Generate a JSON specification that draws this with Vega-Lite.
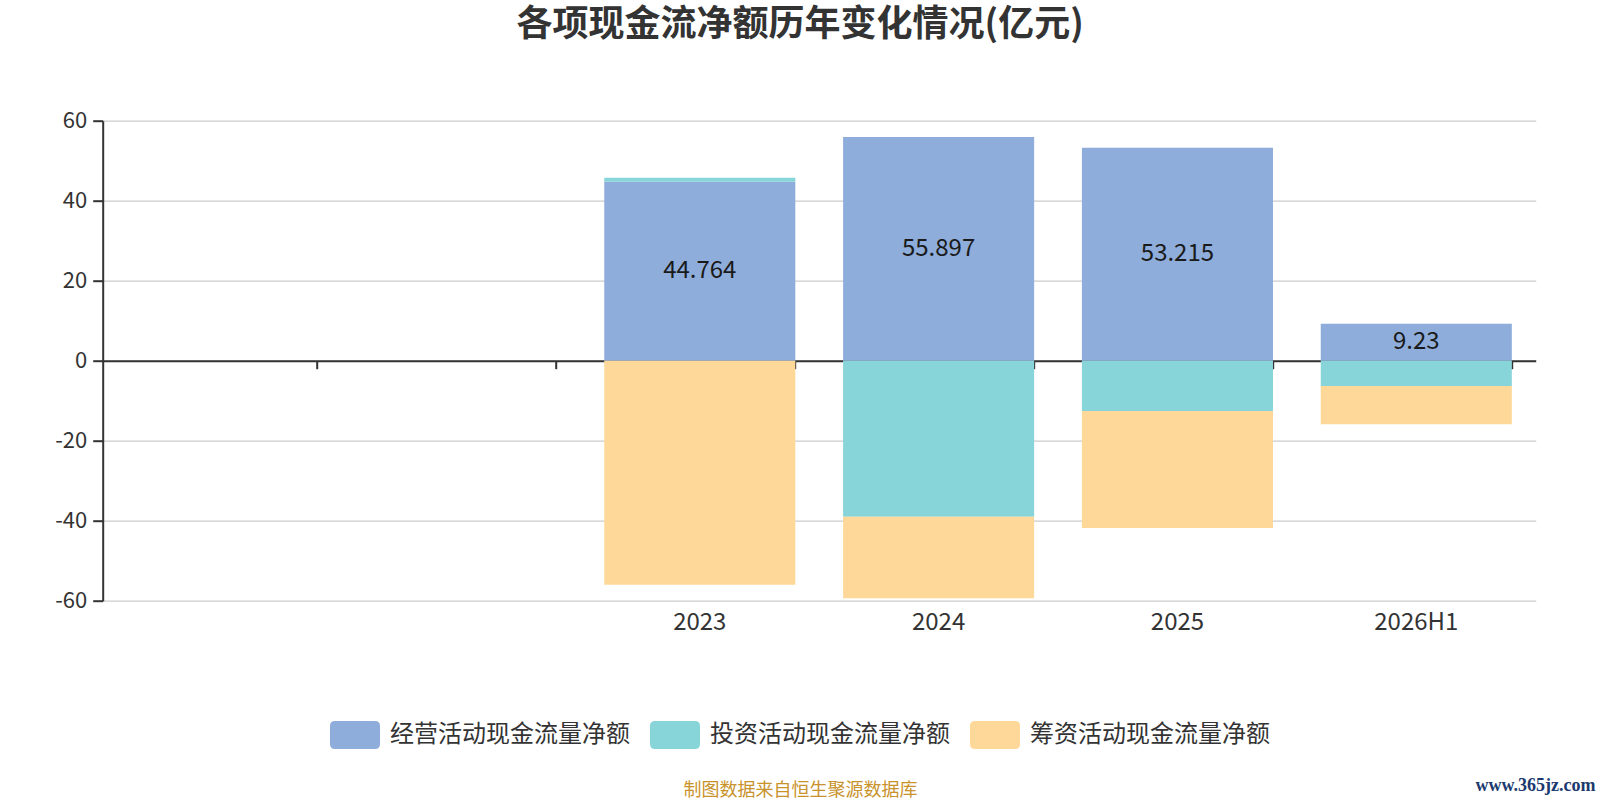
{
  "$schema": "https://vega.github.io/schema/vega-lite/v6.json",
  "autosize": {"type": "none"},
  "padding": {"left": 102.7, "top": 120.7, "right": 64.3, "bottom": 199.3},
  "width": 1433,
  "height": 480,
  "title": {
    "text": "各项现金流净额历年变化情况(亿元)",
    "anchor": "middle", "dx": -19, "offset": 66,
    "font": "Noto Sans CJK SC", "fontSize": 36, "fontWeight": "bold", "color": "#333333"
  },
  "data": {
    "values": [
      {"year": "2023", "type": "经营活动现金流量净额", "k": 1, "value": 44.764},
      {"year": "2023", "type": "投资活动现金流量净额", "k": 2, "value": 1.0},
      {"year": "2023", "type": "筹资活动现金流量净额", "k": 3, "value": -56.0},
      {"year": "2024", "type": "经营活动现金流量净额", "k": 1, "value": 55.897},
      {"year": "2024", "type": "投资活动现金流量净额", "k": 2, "value": -39.0},
      {"year": "2024", "type": "筹资活动现金流量净额", "k": 3, "value": -20.4},
      {"year": "2025", "type": "经营活动现金流量净额", "k": 1, "value": 53.215},
      {"year": "2025", "type": "投资活动现金流量净额", "k": 2, "value": -12.6},
      {"year": "2025", "type": "筹资活动现金流量净额", "k": 3, "value": -29.2},
      {"year": "2026H1", "type": "经营活动现金流量净额", "k": 1, "value": 9.23},
      {"year": "2026H1", "type": "投资活动现金流量净额", "k": 2, "value": -6.3},
      {"year": "2026H1", "type": "筹资活动现金流量净额", "k": 3, "value": -9.6}
    ]
  },
  "resolve": {"axis": {"x": "independent"}},
  "layer": [
    {
      "mark": {"type": "bar"},
      "encoding": {
        "x": {
          "field": "year", "type": "nominal", "sort": null,
          "scale": {"domain": [" ", "  ", "2023", "2024", "2025", "2026H1"], "paddingInner": 0.2, "paddingOuter": 0.1},
          "axis": {
            "orient": "bottom", "domain": false, "ticks": false, "grid": false,
            "labelAngle": 0, "labelFontSize": 24, "labelColor": "#333333", "labelPadding": 10,
            "title": "制图数据来自恒生聚源数据库", "titleFontSize": 18, "titleFontWeight": "normal",
            "titleColor": "#c8922c", "titleX": 697.3, "titleY": 189.3, "titleBaseline": "middle", "titleAlign": "center"
          }
        },
        "y": {
          "field": "value", "type": "quantitative", "stack": "zero",
          "scale": {"domain": [-60, 60], "nice": false},
          "axis": {
            "values": [-60, -40, -20, 0, 20, 40, 60], "title": null,
            "labelExpr": "datum.value + ''",
            "labelFontSize": 22, "labelColor": "#333333", "labelPadding": 6,
            "domainColor": "#333333", "domainWidth": 2, "tickColor": "#333333", "tickWidth": 2, "tickSize": 10,
            "gridColor": "#cccccc", "gridWidth": 1.3
          }
        },
        "color": {
          "field": "type", "type": "nominal",
          "scale": {
            "domain": ["经营活动现金流量净额", "投资活动现金流量净额", "筹资活动现金流量净额"],
            "range": ["#8eaddb", "#88d5d9", "#fed899"]
          },
          "legend": {
            "orient": "none", "direction": "horizontal", "legendX": 227.3, "legendY": 589.3,
            "title": null,
            "symbolType": "M-0.8,-0.56 L0.8,-0.56 Q1,-0.56 1,-0.36 L1,0.36 Q1,0.56 0.8,0.56 L-0.8,0.56 Q-1,0.56 -1,0.36 L-1,-0.36 Q-1,-0.56 -0.8,-0.56 Z",
            "symbolSize": 2500, "symbolStrokeWidth": 0, "symbolOpacity": 1,
            "labelFontSize": 24, "labelColor": "#333333", "labelOffset": 10, "labelLimit": 400,
            "columnPadding": 20
          }
        },
        "order": {"field": "k", "type": "quantitative"}
      }
    },
    {
      "transform": [
        {"filter": "datum.k == 1"},
        {"calculate": "datum.value / 2", "as": "mid"}
      ],
      "mark": {"type": "text", "fontSize": 24, "color": "#1a1a1a", "baseline": "middle"},
      "encoding": {
        "x": {
          "field": "year", "type": "nominal", "sort": null,
          "axis": {
            "orient": "bottom", "offset": -240, "labels": false, "grid": false,
            "domainColor": "#333333", "domainWidth": 2,
            "ticks": true, "tickColor": "#333333", "tickWidth": 2, "tickSize": 8, "bandPosition": 1,
            "title": "www.365jz.com", "titleFont": "Liberation Serif", "titleFontSize": 18, "titleFontWeight": "bold",
            "titleColor": "#1b3a6e", "titleX": 1432.3, "titleY": 429.3, "titleBaseline": "alphabetic", "titleAlign": "center"
          }
        },
        "y": {"field": "mid", "type": "quantitative"},
        "text": {"field": "value", "type": "quantitative"}
      }
    }
  ],
  "config": {
    "font": "Noto Sans CJK SC",
    "view": {"stroke": null},
    "axis": {"labelFont": "Noto Sans CJK SC", "titleFont": "Noto Sans CJK SC"},
    "legend": {"labelFont": "Noto Sans CJK SC"}
  }
}
